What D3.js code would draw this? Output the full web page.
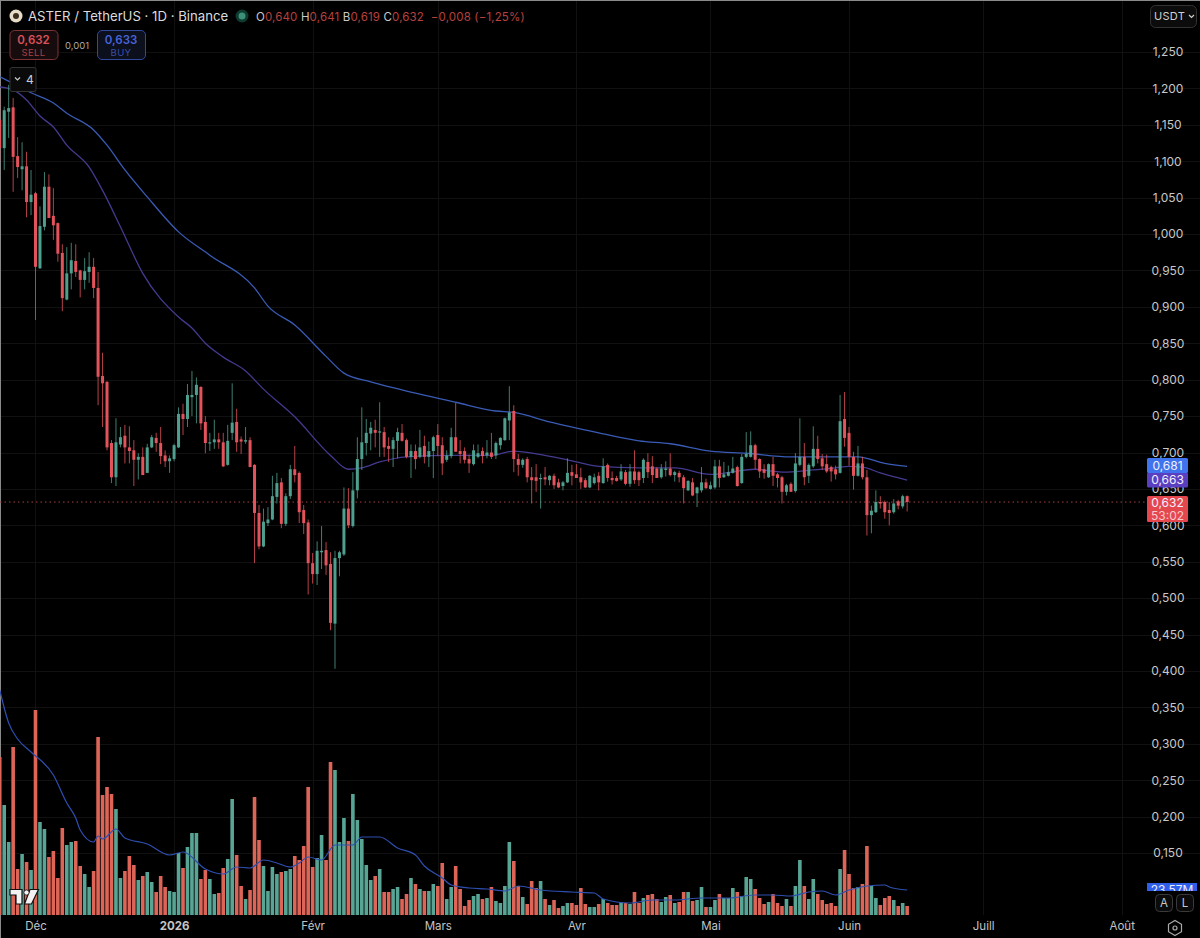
<!DOCTYPE html>
<html><head><meta charset="utf-8">
<script src="https://cdn.jsdelivr.net/npm/d3@7"></script>
<style>html,body{margin:0;padding:0;background:#000;overflow:hidden}svg{display:block;font-family:Inter,"Noto Sans",sans-serif}</style>
</head><body><svg id="c" width="1200" height="938"></svg>
<script>
const opens=[1.157,1.118,1.168,1.174,1.107,1.089,1.093,1.044,1.056,.953,1.010,1.065,1.025,1.015,.974,.910,.946,.963,.950,.937,.948,.955,.926,.805,.797,.713,.666,.711,.723,.707,.703,.690,.694,.672,.707,.720,.713,.696,.688,.691,.707,.753,.746,.776,.779,.790,.742,.713,.714,.718,.714,.683,.727,.742,.718,.715,.717,.683,.617,.571,.603,.608,.639,.659,.602,.640,.677,.672,.621,.604,.548,.533,.563,.566,.547,.465,.555,.560,.623,.599,.648,.691,.713,.726,.731,.728,.728,.709,.705,.716,.727,.717,.694,.702,.694,.709,.694,.702,.724,.710,.690,.695,.721,.702,.702,.691,.684,.694,.702,.696,.700,.696,.710,.717,.744,.757,.691,.683,.691,.666,.666,.664,.666,.662,.668,.659,.654,.659,.673,.670,.666,.662,.652,.658,.668,.658,.683,.665,.665,.663,.673,.657,.674,.673,.665,.687,.681,.678,.666,.676,.678,.669,.672,.666,.648,.659,.644,.648,.659,.650,.652,.681,.666,.668,.672,.680,.658,.694,.694,.710,.691,.677,.666,.684,.670,.666,.646,.657,.647,.683,.694,.668,.681,.705,.692,.684,.680,.677,.672,.746,.727,.694,.668,.685,.666,.614,.618,.632,.632,.621,.618,.633,.626,.640];
const highs=[1.19,1.175,1.205,1.187,1.133,1.126,1.113,1.088,1.058,1.038,1.085,1.082,1.063,1.016,.986,.982,.988,.986,.951,.967,.975,.967,.948,.837,.798,.717,.747,.735,.738,.736,.717,.699,.707,.712,.724,.727,.735,.703,.696,.712,.762,.767,.794,.812,.803,.791,.750,.727,.745,.727,.727,.738,.795,.760,.722,.735,.721,.684,.628,.623,.625,.668,.672,.665,.644,.683,.709,.674,.628,.608,.562,.578,.599,.577,.563,.565,.565,.652,.651,.673,.721,.762,.746,.742,.745,.769,.735,.721,.721,.734,.739,.719,.711,.711,.731,.723,.715,.723,.739,.721,.703,.734,.768,.717,.707,.697,.711,.711,.707,.717,.727,.715,.721,.748,.791,.765,.698,.692,.694,.680,.684,.671,.680,.669,.671,.664,.661,.692,.683,.684,.679,.665,.669,.671,.673,.692,.685,.674,.668,.684,.676,.684,.703,.675,.692,.699,.695,.680,.684,.688,.699,.675,.675,.669,.662,.665,.653,.680,.664,.660,.690,.690,.687,.682,.694,.682,.698,.728,.729,.712,.692,.684,.685,.694,.672,.668,.657,.659,.699,.747,.713,.685,.736,.723,.698,.697,.682,.682,.779,.783,.735,.701,.709,.694,.676,.627,.648,.640,.634,.632,.636,.635,.642,.641];
const lows=[1.10,1.088,1.132,1.058,1.077,1.060,1.023,1.026,.882,.952,1.005,1.022,.992,.962,.894,.909,.924,.941,.913,.924,.933,.912,.765,.735,.703,.658,.654,.707,.685,.685,.654,.663,.669,.672,.706,.701,.684,.680,.672,.688,.706,.724,.735,.750,.740,.731,.699,.702,.705,.705,.680,.682,.717,.701,.698,.712,.680,.548,.567,.570,.599,.607,.630,.596,.599,.636,.659,.603,.588,.505,.520,.518,.540,.532,.456,.403,.530,.558,.596,.597,.637,.676,.696,.703,.707,.694,.694,.687,.680,.692,.715,.692,.665,.677,.692,.685,.680,.665,.695,.669,.687,.692,.701,.685,.685,.672,.682,.692,.685,.692,.691,.691,.704,.716,.717,.673,.668,.679,.659,.630,.646,.623,.655,.655,.650,.651,.648,.658,.655,.665,.650,.651,.651,.656,.648,.657,.660,.656,.660,.661,.655,.653,.657,.654,.658,.665,.658,.665,.664,.667,.667,.660,.659,.630,.647,.640,.625,.645,.650,.649,.650,.652,.665,.667,.671,.653,.657,.692,.693,.677,.665,.664,.665,.654,.652,.630,.641,.646,.645,.681,.655,.658,.679,.685,.676,.672,.660,.663,.671,.708,.682,.649,.667,.663,.586,.589,.617,.623,.609,.600,.616,.622,.623,.619];
const closes=[1.118,1.170,1.173,1.106,1.092,1.093,1.044,1.054,.955,1.011,1.065,1.022,1.012,.973,.912,.946,.964,.948,.937,.949,.955,.926,.804,.795,.707,.666,.714,.721,.707,.702,.690,.694,.669,.707,.721,.713,.695,.688,.692,.710,.753,.746,.779,.779,.793,.740,.713,.714,.718,.714,.681,.716,.741,.714,.715,.717,.680,.617,.571,.605,.608,.640,.658,.602,.640,.677,.669,.618,.603,.548,.533,.565,.565,.545,.466,.555,.563,.623,.600,.648,.691,.714,.727,.734,.727,.729,.707,.705,.717,.728,.716,.694,.702,.691,.707,.694,.702,.721,.709,.685,.696,.721,.701,.698,.690,.685,.703,.699,.695,.700,.694,.713,.720,.747,.755,.691,.683,.690,.666,.662,.661,.665,.663,.668,.655,.652,.659,.672,.668,.665,.659,.652,.668,.666,.659,.681,.665,.662,.661,.674,.657,.674,.662,.662,.690,.673,.669,.665,.678,.678,.669,.673,.666,.651,.661,.641,.652,.659,.651,.655,.681,.665,.670,.673,.678,.654,.694,.698,.710,.690,.674,.672,.684,.668,.665,.646,.655,.646,.685,.694,.666,.683,.705,.691,.681,.674,.674,.670,.743,.720,.694,.668,.685,.666,.614,.620,.632,.630,.618,.617,.630,.627,.640,.632];
const volumes=[158,110,73,168,46,61,53,45,205,93,86,58,64,37,87,70,73,74,49,41,28,44,178,120,128,121,106,37,44,59,50,35,39,43,33,23,39,28,24,23,62,47,68,82,82,36,45,36,21,22,47,56,116,60,29,16,25,118,75,49,24,48,41,43,44,46,59,55,69,128,48,57,80,55,153,145,73,97,74,121,95,76,50,35,39,46,23,23,26,28,16,21,37,31,26,24,24,31,29,52,16,28,49,26,9,15,19,21,16,17,28,14,12,29,73,54,29,18,11,34,27,34,16,10,15,7,9,12,12,10,27,11,8,8,11,16,12,10,10,13,12,11,23,12,17,20,21,16,13,18,20,12,13,23,23,14,15,28,8,8,15,21,17,17,27,23,19,38,36,26,17,11,13,21,12,9,16,9,29,55,29,16,36,21,15,11,12,9,46,65,41,27,28,31,69,29,17,10,17,19,15,9,12,9];

const ma1Idx=[0,1,7,12,15,21,24,28,33,40,47,57,60,66,73,77,83,90,102,111,115,123,134,143,150,159,167,177,192,198,203];
const ma1Val=[1.216,1.213,1.194,1.180,1.166,1.143,1.122,1.088,1.051,1.003,.971,.926,.901,.875,.832,.809,.797,.786,.769,.757,.755,.742,.727,.716,.712,.702,.699,.694,.694,.685,.681];
const ma2Idx=[0,3,6,9,12,15,20,23,27,32,40,43,46,50,55,59,66,74,78,81,85,91,101,110,115,120,127,134,143,151,159,169,175,182,187,190,193,197,203];
const ma2Val=[1.202,1.198,1.184,1.162,1.147,1.122,1.092,1.060,1.010,.946,.886,.871,.850,.831,.812,.787,.749,.696,.677,.679,.687,.694,.696,.696,.702,.698,.690,.681,.679,.679,.670,.677,.673,.676,.679,.681,.680,.672,.662];
const volMaIdx=[0,2,4,7,12,15,17,18,21,22,23,26,28,33,38,41,46,50,53,56,59,62,65,67,69,72,75,79,81,85,89,93,95,99,101,105,109,113,116,121,128,133,135,141,146,151,157,163,169,173,177,181,184,187,190,194,198,199,203];
const volMaVal=[225,192,176,163,140,112,97,85,73,79,76,86,77,71,60,63,46,41,48,47,55,52,48,52,58,55,70,70,78,78,67,60,49,37,30,27,26,24,29,25,23,22,16,12,15,15,17,17,20,20,19,23,24,20,25,29,30,28,25];

const priceTicks=[1.25,1.2,1.15,1.1,1.05,1,.95,.9,.85,.8,.75,.7,.65,.6,.55,.5,.45,.4,.35,.3,.25,.2,.15];
const monthIdx=[8,39,70,98,129,159,190,220,251];
const monthLabels=["Déc","2026","Févr","Mars","Avr","Mai","Juin","Juill","Août"];
const lastPrice=.632, ma1Last=.681, ma2Last=.663;

const W=1200,H=938,paneR=1145,base=915;
const svg=d3.select("#c");
const fr=v=>v.toFixed(3).replace(".",",");
// scales
const x=d3.scaleLinear().domain([0,251]).range([-0.26,1121.7]);
const y=d3.scaleLinear().domain([1.25,.15]).range([52,853]);
const v=d3.scaleLinear().domain([0,205]).range([base,base-205]);
svg.append("rect").attr("width",W).attr("height",H).attr("fill","#000");
// grid
const grid=svg.append("g").attr("stroke","#111").attr("stroke-width",1);
grid.selectAll("line.h").data(priceTicks).join("line").attr("x1",0).attr("x2",W).attr("y1",d=>Math.round(y(d))+.5).attr("y2",d=>Math.round(y(d))+.5);
grid.selectAll("line.v").data(monthIdx).join("line").attr("x1",d=>Math.round(x(d))+.5).attr("x2",d=>Math.round(x(d))+.5).attr("y1",0).attr("y2",base);
// edge
svg.append("line").attr("x1",0).attr("x2",W).attr("y1",.5).attr("y2",.5).attr("stroke","#8a8a8a");
svg.append("line").attr("x1",.5).attr("x2",.5).attr("y1",0).attr("y2",H).attr("stroke","#8a8a8a");
// data
const idx=d3.range(opens.length);
const UP="#4f9f8e",DN="#e2535b",VUP="#58a595",VDN="#dd6558";
const isUp=i=>closes[i]>=opens[i];
// volume
svg.append("g").selectAll("rect").data(idx).join("rect")
 .attr("x",i=>x(i)-1.8).attr("width",3.6).attr("y",i=>v(volumes[i])).attr("height",i=>base-v(volumes[i]))
 .attr("fill",i=>isUp(i)?VUP:VDN);
// volume MA
svg.append("path").datum(volMaIdx).attr("fill","none").attr("stroke","#2f4fb0").attr("stroke-width",1.2)
 .attr("d",d3.line().x(i=>x(i)).y((i,k)=>v(volMaVal[k])).curve(d3.curveMonotoneX));
// last price dotted
svg.append("line").attr("x1",0).attr("x2",paneR).attr("y1",y(lastPrice)).attr("y2",y(lastPrice))
 .attr("stroke","#a5403f").attr("stroke-width",1).attr("stroke-dasharray","1.5 3");
// MAs
svg.append("path").datum(ma2Idx).attr("fill","none").attr("stroke","#443a8f").attr("stroke-width",1.3)
 .attr("d",d3.line().x(i=>x(i)).y((i,k)=>y(ma2Val[k])).curve(d3.curveMonotoneX));
svg.append("path").datum(ma1Idx).attr("fill","none").attr("stroke","#3a5bb5").attr("stroke-width",1.3)
 .attr("d",d3.line().x(i=>x(i)).y((i,k)=>y(ma1Val[k])).curve(d3.curveMonotoneX));
// candles
const cg=svg.append("g");
cg.selectAll("line").data(idx).join("line").attr("x1",i=>x(i)).attr("x2",i=>x(i))
 .attr("y1",i=>y(highs[i])).attr("y2",i=>y(lows[i])).attr("stroke",i=>isUp(i)?UP:DN).attr("stroke-width",1).attr("opacity",.8);
cg.selectAll("rect").data(idx).join("rect").attr("x",i=>x(i)-1.5).attr("width",3)
 .attr("y",i=>y(Math.max(opens[i],closes[i])))
 .attr("height",i=>Math.max(1.2,Math.abs(y(opens[i])-y(closes[i]))))
 .attr("fill",i=>isUp(i)?UP:DN);
// axes
const ay=d3.axisRight(y).tickValues(priceTicks).tickFormat(fr).tickSize(0).tickPadding(0);
const gy=svg.append("g").attr("transform","translate(1168,0)").call(ay);
gy.select(".domain").remove();
gy.selectAll("text").attr("text-anchor","middle").attr("fill","#c8c8c8").attr("font-size",12).attr("font-family","Inter,sans-serif");
const ax=d3.axisBottom(x).tickValues(monthIdx).tickFormat((d,i)=>monthLabels[i]).tickSize(0).tickPadding(0);
const gx=svg.append("g").attr("transform","translate(0,922)").call(ax);
gx.select(".domain").remove();
gx.selectAll("text").attr("fill","#c4c4c4").attr("font-size",11.5).attr("font-family","Inter,sans-serif")
 .attr("font-weight",(d,i)=>monthLabels[i]==="2026"?700:400);
// price labels
function tag(yc,h,col,lines){
 svg.append("rect").attr("x",1147).attr("y",yc-h/2).attr("width",41).attr("height",h).attr("rx",1.5).attr("fill",col);
 lines.forEach((t,k)=>svg.append("text").attr("x",1167.5).attr("y",yc-(lines.length-1)*6.5+k*13+4.3).attr("text-anchor","middle")
  .attr("font-size",12).attr("fill",k?"#f5c9cb":"#f0f0ff").text(t));
}
tag(480,15,"#5a3fc0",[fr(ma2Last)]);
tag(465.5,15,"#3f74ee",[fr(ma1Last)]);
tag(509,26,"#e5474f",[fr(lastPrice),"53:02"]);
// volume tag, clipped
svg.append("clipPath").attr("id","vc").append("rect").attr("x",1147).attr("y",883).attr("width",50).attr("height",8);
const vt=svg.append("g").attr("clip-path","url(#vc)");
vt.append("rect").attr("x",1147).attr("y",883).attr("width",50).attr("height",8).attr("fill","#2f5fe8");
vt.append("text").attr("x",1172).attr("y",894).attr("text-anchor","middle").attr("font-size",12).attr("fill","#e8ecff").text("23,57M");
// A / L
[["A",1155],["L",1176]].forEach(([t,bx])=>{
 svg.append("rect").attr("x",bx+.5).attr("y",894.5).attr("width",17).attr("height",17).attr("rx",4).attr("fill","#0b0b0b").attr("stroke","#3a3a3a");
 svg.append("text").attr("x",bx+9).attr("y",907).attr("text-anchor","middle").attr("font-size",11.5).attr("fill","#c8c8c8").text(t);
});
// gear
svg.append("path").attr("d",d3.line()(d3.range(6).map(k=>[1175+7.5*Math.sin(k*Math.PI/3),928+7.5*Math.cos(k*Math.PI/3)]))+"Z")
 .attr("fill","none").attr("stroke","#aaa").attr("stroke-width",1.2);
svg.append("circle").attr("cx",1175).attr("cy",928).attr("r",2).attr("fill","none").attr("stroke","#aaa").attr("stroke-width",1.2);
// USDT
svg.append("rect").attr("x",1150.5).attr("y",5.5).attr("width",46).attr("height",22).attr("rx",5).attr("fill","#0c0c0c").attr("stroke","#333");
svg.append("text").attr("x",1154).attr("y",20).attr("font-size",11).attr("fill","#d0d0d0").attr("letter-spacing",.3).text("USDT");
svg.append("path").attr("d","M1189 15l2.5 2.5 2.5-2.5").attr("fill","none").attr("stroke","#ccc").attr("stroke-width",1.2);
// header
svg.append("circle").attr("cx",16).attr("cy",16).attr("r",6.5).attr("fill","#e8dcc8");
svg.append("circle").attr("cx",16).attr("cy",16).attr("r",3).attr("fill","#3a2c1e");
svg.append("text").attr("x",28).attr("y",21).attr("font-size",13.2).attr("fill","#dcdcdc").text("ASTER / TetherUS · 1D · Binance");
svg.append("circle").attr("cx",242).attr("cy",16).attr("r",6.5).attr("fill","#0f3a30");
svg.append("circle").attr("cx",242).attr("cy",16).attr("r",3.5).attr("fill","#3d8f78");
const hdr=svg.append("text").attr("x",256).attr("y",20.5).attr("font-size",11.5).attr("letter-spacing",.15);
[["O","#c8c8c8"],["0,640","#b8403f"],[" H","#c8c8c8"],["0,641","#b8403f"],[" B","#c8c8c8"],["0,619","#b8403f"],[" C","#c8c8c8"],["0,632","#b8403f"],["  −0,008 (−1,25%)","#b8403f"]]
 .forEach(([t,c])=>hdr.append("tspan").attr("fill",c).style("white-space","pre").text(t));
// sell/buy
function btn(bx,w,col,bord,bg,a,b){
 svg.append("rect").attr("x",bx+.5).attr("y",30.5).attr("width",w).attr("height",29).attr("rx",4.5).attr("fill",bg).attr("stroke",bord);
 svg.append("text").attr("x",bx+w/2).attr("y",44).attr("text-anchor","middle").attr("font-size",11.5).attr("font-weight",600).attr("fill",col).text(a);
 svg.append("text").attr("x",bx+w/2).attr("y",55.5).attr("text-anchor","middle").attr("font-size",9.5).attr("letter-spacing",.4).attr("fill",col).attr("opacity",.75).text(b);
}
btn(9.5,48,"#d9525a","#7e3236","#170c0d","0,632","SELL");
btn(97,48,"#4763d8","#31489f","#0c0f1c","0,633","BUY");
svg.append("text").attr("x",77).attr("y",49).attr("text-anchor","middle").attr("font-size",9.5).attr("fill","#aaa").text("0,001");
svg.append("rect").attr("x",10).attr("y",67.5).attr("width",26).attr("height",24).attr("rx",2).attr("fill","#0a0a0a").attr("stroke","#333");
svg.append("path").attr("d","M15 77.5l2.5 2.5 2.5-2.5").attr("fill","none").attr("stroke","#ccc").attr("stroke-width",1.2);
svg.append("text").attr("x",26).attr("y",84).attr("font-size",12).attr("fill","#ccc").text("4");
// TV logo
svg.append("path").attr("d","M10 889.5H22V904H16V895H10ZM30 889.5H38.5L31.5 904H24.5Z").attr("fill","#f2f2f2").attr("stroke","#111").attr("stroke-width",1.2);
svg.append("circle").attr("cx",26.5).attr("cy",892.5).attr("r",2.6).attr("fill","#f2f2f2").attr("stroke","#111").attr("stroke-width",.8);
</script></body></html>
